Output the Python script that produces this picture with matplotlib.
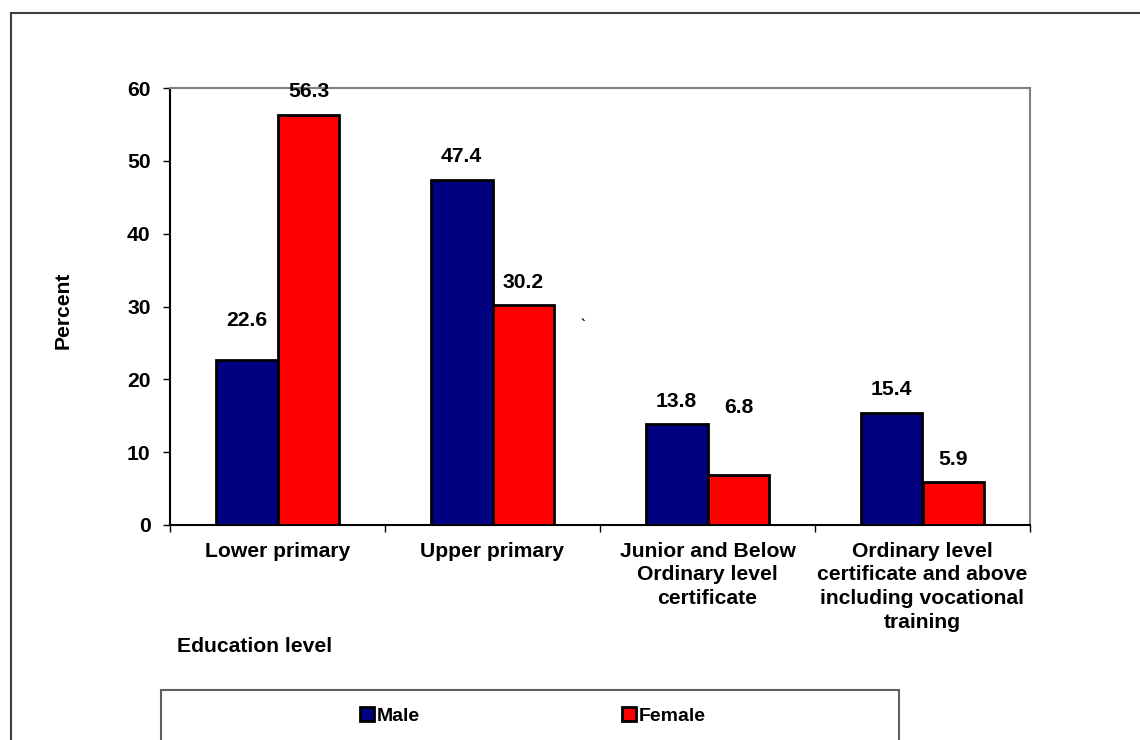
import matplotlib
matplotlib.use("Agg")
import matplotlib.pyplot as plt
from matplotlib.patches import Rectangle
import numpy as np

plt.rcParams['font.family'] = ['Liberation Sans', 'DejaVu Sans']
plt.rcParams['font.weight'] = 'bold'

categories = [
    "Lower primary",
    "Upper primary",
    "Junior and Below\nOrdinary level\ncertificate",
    "Ordinary level\ncertificate and above\nincluding vocational\ntraining",
]
male = [22.6, 47.4, 13.8, 15.4]
female = [56.3, 30.2, 6.8, 5.9]
series_names = ["Male", "Female"]
yticks = [0, 10, 20, 30, 40, 50, 60]

# how far (in points) each value label sits above its bar
male_label_lift = [29, 16.5, 16.5, 16.5]
female_label_lift = [17, 16.5, 49, 16]

W, H = 1140, 740
fig = plt.figure(figsize=(W / 100, H / 100), dpi=100)
ax = fig.add_axes([170 / W, 1 - 525 / H, 860 / W, 437 / H])

FS = 15.2
x = np.arange(len(categories))
bw = 0.288
b1 = ax.bar(x - bw / 2, male, bw, color="#000080", edgecolor="black",
            linewidth=2, label=series_names[0], zorder=3)
b2 = ax.bar(x + bw / 2, female, bw, color="#FF0000", edgecolor="black",
            linewidth=2, label=series_names[1], zorder=3)

for bars, vals, lifts in ((b1, male, male_label_lift),
                          (b2, female, female_label_lift)):
    for rect, v, lift in zip(bars, vals, lifts):
        ax.annotate(f"{v:.1f}", (rect.get_x() + rect.get_width() / 2, v),
                    xytext=(0, lift), textcoords="offset points",
                    ha="center", va="center", fontsize=FS,
                    fontweight="bold", zorder=5, annotation_clip=False)

ax.set_xlim(-0.5, len(categories) - 0.5)
ax.set_ylim(0, 60)
ax.set_yticks(yticks)
ax.set_yticklabels([str(t) for t in yticks], fontsize=FS, fontweight="bold")
ax.tick_params(axis="y", direction="out", length=5, width=1, pad=9)

ax.set_xticks(x)
ax.set_xticklabels(categories, fontsize=FS, fontweight="bold",
                   linespacing=1.32, va="top")
ax.tick_params(axis="x", which="major", length=0, pad=12)
ax.set_xticks(np.arange(-0.5, len(categories), 1.0), minor=True)
ax.tick_params(axis="x", which="minor", direction="out", length=5, width=1)

ax.spines["left"].set_color("black")
ax.spines["bottom"].set_color("black")
ax.spines["top"].set_color("#808080")
ax.spines["right"].set_color("#808080")
for s in ax.spines.values():
    s.set_linewidth(1.5)

fig.text(63 / W, 1 - 310 / H, "Percent", rotation=90, ha="center",
         va="center", fontsize=FS, fontweight="bold")
fig.text(177 / W, 1 - 646 / H, "Education level", ha="left", va="center",
         fontsize=FS, fontweight="bold")
fig.text(583 / W, 1 - 326 / H, "`", ha="center", va="center", fontsize=10)

# outer chart frame
fig.patches.append(Rectangle((11 / W, -0.1), 2.0, 1 - 13 / H + 0.1,
                             transform=fig.transFigure, fill=False,
                             edgecolor="#404040", linewidth=1.5, zorder=0))
# legend frame
fig.patches.append(Rectangle((161 / W, -0.1), 738 / W, 1 - 690 / H + 0.1,
                             transform=fig.transFigure, fill=False,
                             edgecolor="#606060", linewidth=1.5, zorder=0))

fig.legend(handles=[b1, b2], loc="center",
           bbox_to_anchor=(533 / W, 1 - 716 / H), ncol=2, frameon=False,
           prop={"weight": "bold", "size": 14},
           handlelength=0.7, handleheight=0.7, handletextpad=0.15,
           columnspacing=10.4, borderpad=0)

fig.savefig("out.png", dpi=100)
